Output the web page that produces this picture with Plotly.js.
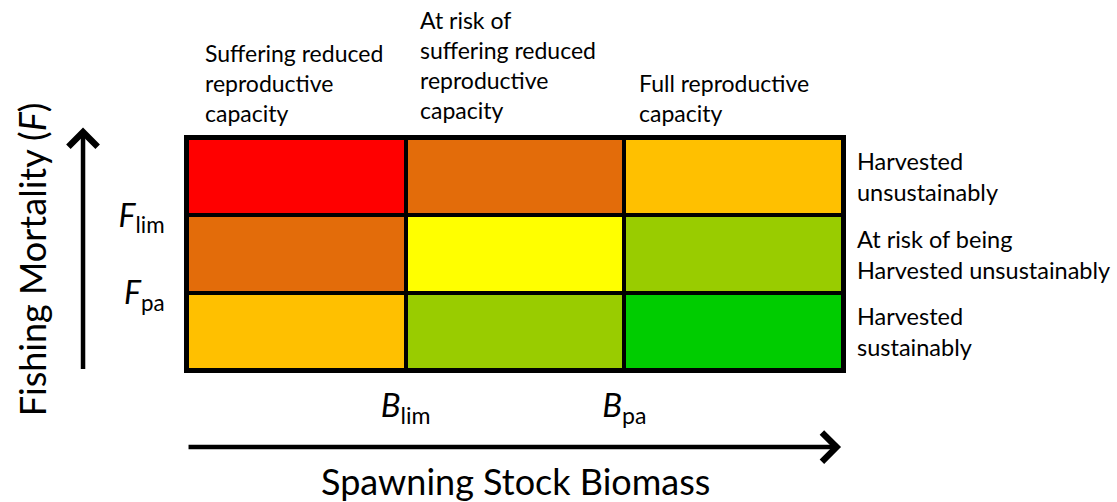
<!DOCTYPE html>
<html>
<head>
<meta charset="utf-8">
<script src="https://cdn.plot.ly/plotly-3.0.1.min.js"></script>
<style>html,body{margin:0;padding:0;background:#fff;}#chart{width:1117px;height:502px;}</style>
</head>
<body>
<div id="chart"></div>
<script>
// Column headers (stock status by spawning stock biomass)
const columnLabels = [
  "Suffering reduced<br>reproductive<br>capacity",
  "At risk of<br>suffering reduced<br>reproductive<br>capacity",
  "Full reproductive<br>capacity"
];
// Row labels (fishing pressure), bottom to top
const rowLabels = [
  "Harvested<br>sustainably",
  "At risk of being<br>Harvested unsustainably",
  "Harvested<br>unsustainably"
];
// Reference point tick labels
const xTickLabels = ["<i>B</i><sub>lim</sub>", "<i>B</i><sub>pa</sub>"];
const yTickLabels = ["<i>F</i><sub>pa</sub>", "<i>F</i><sub>lim</sub>"];
const tickPositions = [1, 2];
// Cell centres
const cellX = [0.5, 1.5, 2.5];
const cellY = [0.5, 1.5, 2.5];
// Status colours: 0 red, 1 dark orange, 2 amber, 3 yellow, 4 yellow-green, 5 green
const statusColors = ["#FF0000", "#E36C0A", "#FFC000", "#FFFF00", "#99CC00", "#00CC00"];
// Status matrix, rows bottom to top
const statusRowLow = [2, 4, 5];
const statusRowMid = [1, 3, 4];
const statusRowHigh = [0, 1, 2];
const axisTitleX = "Spawning Stock Biomass";
const axisTitleY = "Fishing Mortality (<i>F</i>)";

const FONT = "Lato, 'Open Sans', sans-serif";
const n = statusColors.length - 1;
const colorscale = [];
statusColors.forEach((c, i) => {
  const lo = i === 0 ? 0 : (i - 0.5) / n;
  const hi = i === n ? 1 : (i + 0.5) / n;
  colorscale.push([lo, c]);
  colorscale.push([hi, c]);
});

const trace = {
  type: "heatmap",
  x: cellX,
  y: cellY,
  z: [statusRowLow, statusRowMid, statusRowHigh],
  zmin: 0,
  zmax: n,
  colorscale: colorscale,
  showscale: false,
  xgap: 4,
  ygap: 4,
  hoverinfo: "skip"
};

const annotations = [];
const colX = [0.024, 0.352, 0.686];
const colY = [1.037, 1.05, 1.037];
columnLabels.forEach((t, i) => annotations.push({
  text: t, xref: "paper", yref: "paper", x: colX[i], y: colY[i],
  xanchor: "left", yanchor: "bottom", align: "left", showarrow: false,
  font: {family: FONT, size: 23, color: "#000"}
}));
rowLabels.forEach((t, i) => annotations.push({
  text: t, xref: "paper", yref: "y", x: 1.018, y: cellY[i],
  xanchor: "left", yanchor: "middle", align: "left", showarrow: false,
  font: {family: FONT, size: 23.5, color: "#000"}
}));
// Axis titles
annotations.push({
  text: axisTitleX, xref: "paper", yref: "paper", x: 0.501, y: -0.48,
  xanchor: "center", yanchor: "middle", showarrow: false,
  font: {family: FONT, size: 36, color: "#000"}
});
annotations.push({
  text: axisTitleY, xref: "paper", yref: "paper", x: -0.236, y: 0.478,
  xanchor: "center", yanchor: "middle", textangle: -90, showarrow: false,
  font: {family: FONT, size: 36, color: "#000"}
});
// Arrows
annotations.push({
  xref: "paper", yref: "paper", x: -0.1585, y: 1.045, ax: 0, ay: 243,
  showarrow: true, arrowhead: 4, arrowsize: 1.25, arrowwidth: 4.5, arrowcolor: "#000", text: ""
});
annotations.push({
  xref: "paper", yref: "paper", x: 0.997, y: -0.332, ax: -654, ay: 0,
  showarrow: true, arrowhead: 4, arrowsize: 1.25, arrowwidth: 4.5, arrowcolor: "#000", text: ""
});

const layout = {
  width: 1117,
  height: 502,
  margin: {l: 187, r: 274, t: 138, b: 132},
  paper_bgcolor: "#fff",
  plot_bgcolor: "#000",
  showlegend: false,
  xaxis: {
    range: [0, 3], fixedrange: true, showgrid: false, zeroline: false,
    tickvals: tickPositions, ticktext: xTickLabels, ticks: "",
    ticklabelstandoff: 4,
    showline: true, mirror: true, linewidth: 3, linecolor: "#000",
    tickfont: {family: FONT, size: 33, color: "#000"}
  },
  yaxis: {
    range: [0, 3], fixedrange: true, showgrid: false, zeroline: false,
    tickvals: tickPositions, ticktext: yTickLabels, ticks: "",
    ticklabelstandoff: 13,
    showline: true, mirror: true, linewidth: 3, linecolor: "#000",
    tickfont: {family: FONT, size: 32, color: "#000"}
  },
  annotations: annotations
};

Plotly.newPlot("chart", [trace], layout, {displayModeBar: false, staticPlot: true});
</script>
</body>
</html>
